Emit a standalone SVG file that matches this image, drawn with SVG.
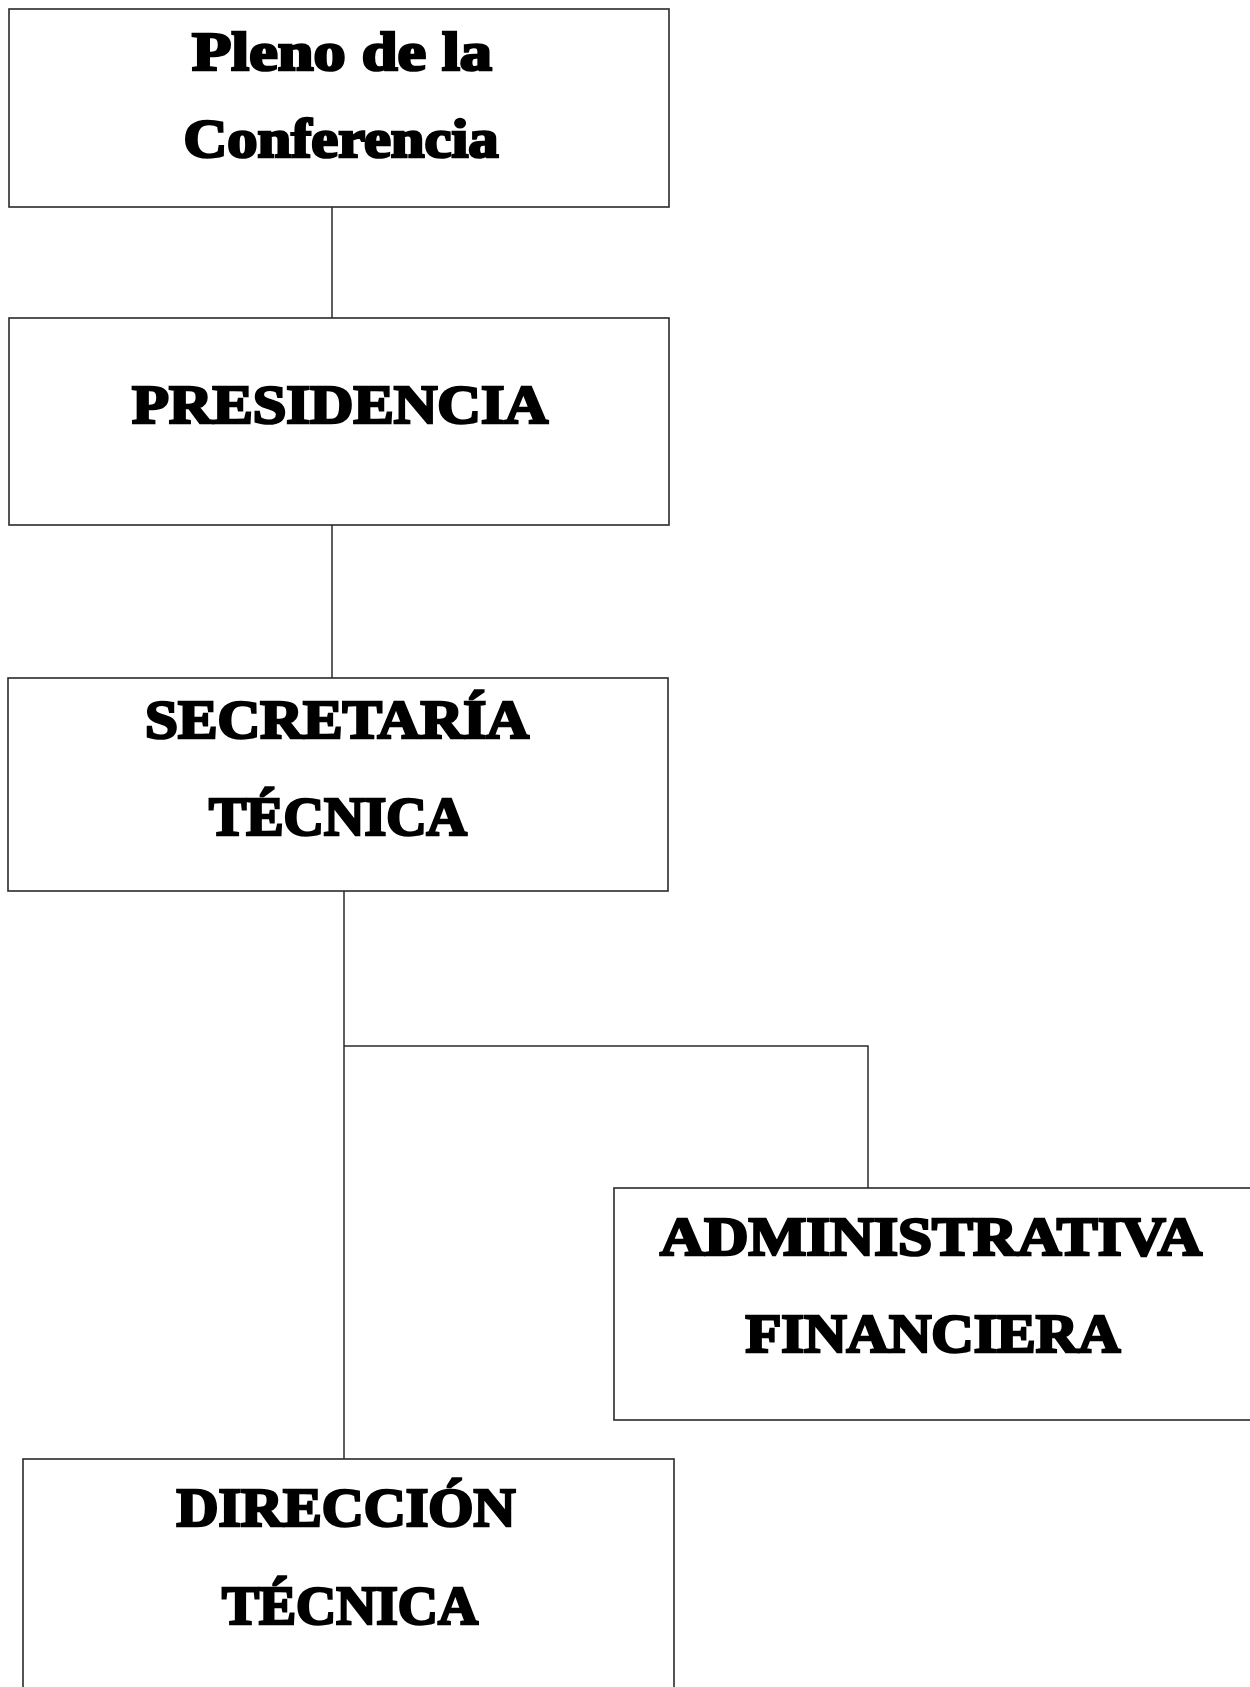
<svg xmlns="http://www.w3.org/2000/svg" width="1250" height="1687" viewBox="0 0 1250 1687">
<style>
.box{fill:#fff;stroke:#2a2a2a;stroke-width:1.6}
.lbl{font-family:"Liberation Serif","Times New Roman",serif;font-weight:bold;font-size:54px;fill:#000;stroke:#000;stroke-width:2.6;stroke-linejoin:miter;text-anchor:middle}
.con{fill:none;stroke:#2a2a2a;stroke-width:1.5}
</style>
<rect width="1250" height="1687" fill="#fff"/>
<g id="connectors">
<line class="con" x1="332" y1="207" x2="332" y2="318"/>
<line class="con" x1="332" y1="525" x2="332" y2="678"/>
<polyline class="con" points="344,891 344,1459"/>
<polyline class="con" points="344,1046 868,1046 868,1188"/>
</g>
<g id="pleno">
<rect class="box" x="9" y="9" width="660" height="198"/>
<text class="lbl" x="342" y="70" textLength="300" lengthAdjust="spacingAndGlyphs">Pleno de la</text>
<text class="lbl" x="341" y="157" textLength="315" lengthAdjust="spacingAndGlyphs">Conferencia</text>
</g>
<g id="presidencia">
<rect class="box" x="9" y="318" width="660" height="207"/>
<text class="lbl" x="340" y="423" textLength="416" lengthAdjust="spacingAndGlyphs">PRESIDENCIA</text>
</g>
<g id="secretaria">
<rect class="box" x="8" y="678" width="660" height="213"/>
<text class="lbl" x="337" y="738" textLength="384" lengthAdjust="spacingAndGlyphs">SECRETARÍA</text>
<text class="lbl" x="338" y="835" textLength="258" lengthAdjust="spacingAndGlyphs">TÉCNICA</text>
</g>
<g id="administrativa">
<rect class="box" x="614" y="1188" width="640" height="232"/>
<text class="lbl" x="931" y="1255" textLength="542" lengthAdjust="spacingAndGlyphs">ADMINISTRATIVA</text>
<text class="lbl" x="933" y="1352" textLength="375" lengthAdjust="spacingAndGlyphs">FINANCIERA</text>
</g>
<g id="direccion">
<rect class="box" x="23" y="1459" width="651" height="240"/>
<text class="lbl" x="346" y="1526" textLength="339" lengthAdjust="spacingAndGlyphs">DIRECCIÓN</text>
<text class="lbl" x="350" y="1624" textLength="256" lengthAdjust="spacingAndGlyphs">TÉCNICA</text>
</g>
</svg>
